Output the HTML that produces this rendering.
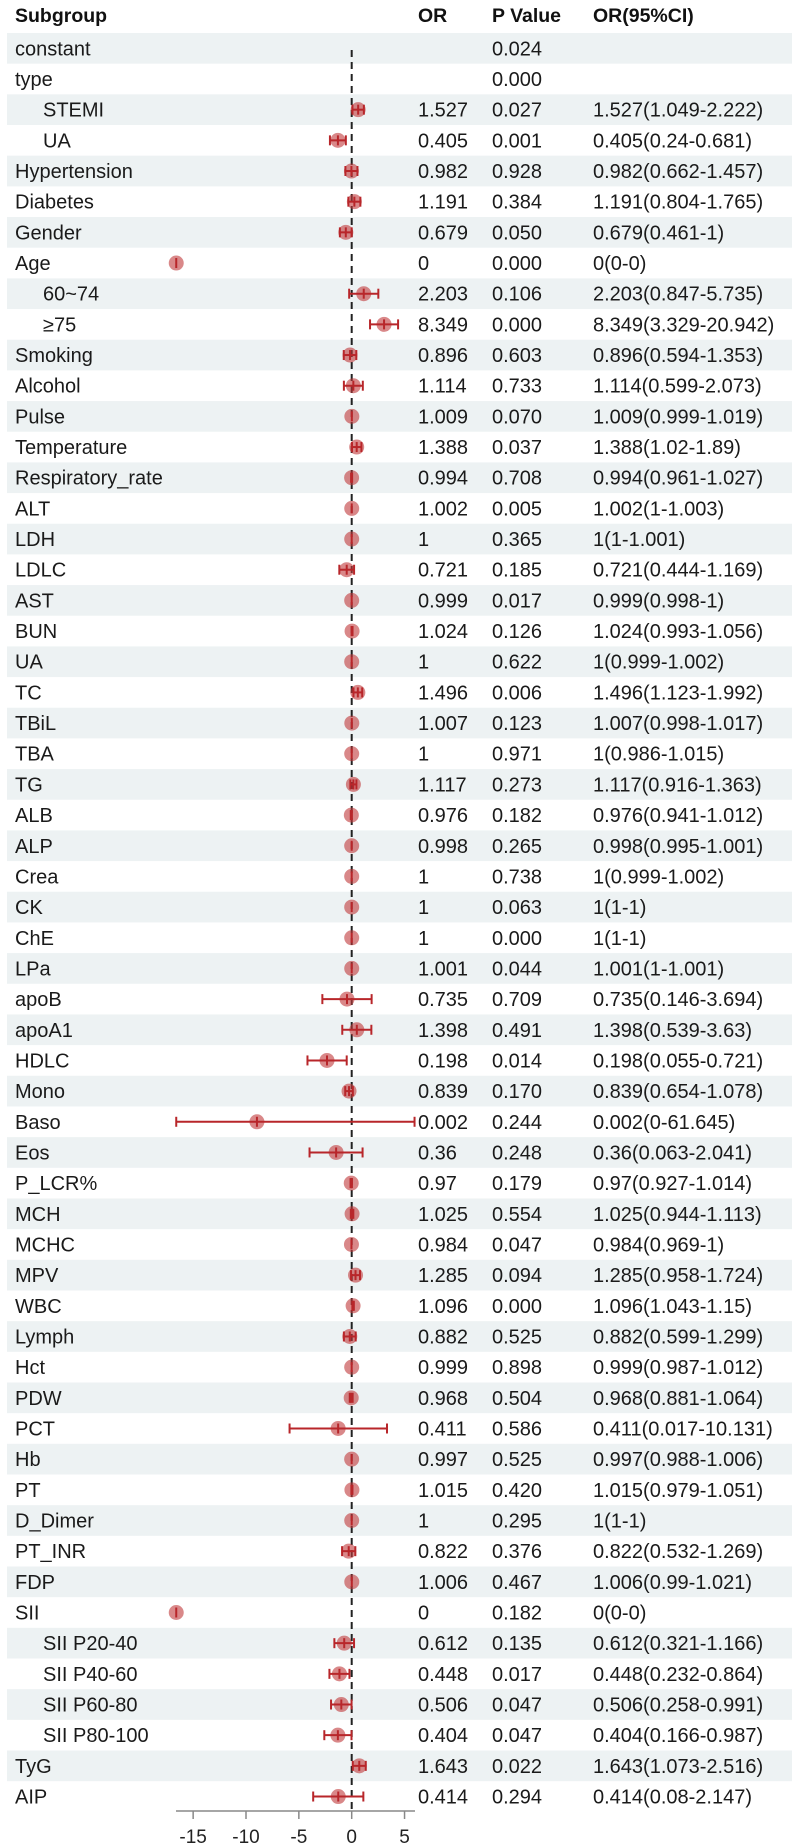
<!DOCTYPE html>
<html><head><meta charset="utf-8"><style>
html,body{margin:0;padding:0;background:#fff;}
svg{display:block;font-family:"Liberation Sans",sans-serif;}
</style></head><body>
<svg id="chart" width="792" height="1847" viewBox="0 0 792 1847" xmlns="http://www.w3.org/2000/svg">
<g id="bands"></g>
<g id="header" font-weight="bold" font-size="19.5" fill="#111">
<text x="15" y="22">Subgroup</text>
<text x="418" y="22">OR</text>
<text x="492" y="22">P Value</text>
<text x="593" y="22">OR(95%CI)</text>
</g>
<g id="texts" font-size="20" fill="#1a1a1a"></g>
<g id="refline"></g>
<g id="marks"></g>
<g id="axis"></g>
</svg>
<script>
const labels=["constant","type","STEMI","UA","Hypertension","Diabetes","Gender","Age","60~74","≥75","Smoking","Alcohol","Pulse","Temperature","Respiratory_rate","ALT","LDH","LDLC","AST","BUN","UA","TC","TBiL","TBA","TG","ALB","ALP","Crea","CK","ChE","LPa","apoB","apoA1","HDLC","Mono","Baso","Eos","P_LCR%","MCH","MCHC","MPV","WBC","Lymph","Hct","PDW","PCT","Hb","PT","D_Dimer","PT_INR","FDP","SII","SII P20-40","SII P40-60","SII P60-80","SII P80-100","TyG","AIP"];
const indented=[2,3,8,9,52,53,54,55];
const orVals=["","","1.527","0.405","0.982","1.191","0.679","0","2.203","8.349","0.896","1.114","1.009","1.388","0.994","1.002","1","0.721","0.999","1.024","1","1.496","1.007","1","1.117","0.976","0.998","1","1","1","1.001","0.735","1.398","0.198","0.839","0.002","0.36","0.97","1.025","0.984","1.285","1.096","0.882","0.999","0.968","0.411","0.997","1.015","1","0.822","1.006","0","0.612","0.448","0.506","0.404","1.643","0.414"];
const pVals=["0.024","0.000","0.027","0.001","0.928","0.384","0.050","0.000","0.106","0.000","0.603","0.733","0.070","0.037","0.708","0.005","0.365","0.185","0.017","0.126","0.622","0.006","0.123","0.971","0.273","0.182","0.265","0.738","0.063","0.000","0.044","0.709","0.491","0.014","0.170","0.244","0.248","0.179","0.554","0.047","0.094","0.000","0.525","0.898","0.504","0.586","0.525","0.420","0.295","0.376","0.467","0.182","0.135","0.017","0.047","0.047","0.022","0.294"];
const ciLow=["","","1.049","0.24","0.662","0.804","0.461","0","0.847","3.329","0.594","0.599","0.999","1.02","0.961","1","1","0.444","0.998","0.993","0.999","1.123","0.998","0.986","0.916","0.941","0.995","0.999","1","1","1","0.146","0.539","0.055","0.654","0","0.063","0.927","0.944","0.969","0.958","1.043","0.599","0.987","0.881","0.017","0.988","0.979","1","0.532","0.99","0","0.321","0.232","0.258","0.166","1.073","0.08"];
const ciHigh=["","","2.222","0.681","1.457","1.765","1","0","5.735","20.942","1.353","2.073","1.019","1.89","1.027","1.003","1.001","1.169","1","1.056","1.002","1.992","1.017","1.015","1.363","1.012","1.001","1.002","1","1","1.001","3.694","3.63","0.721","1.078","61.645","2.041","1.014","1.113","1","1.724","1.15","1.299","1.012","1.064","10.131","1.006","1.051","1","1.269","1.021","0","1.166","0.864","0.991","0.987","2.516","2.147"];
const ticks=[-15,-10,-5,0,5];

const NS="http://www.w3.org/2000/svg";
const X0=351.7, SCALE=10.57, XMIN=-16.6;
const ROW0=33, RH=30.67;
function xs(v){return X0+v*SCALE;}
function tx(orv){const n=parseFloat(orv);return n<=0?XMIN:Math.max(XMIN,Math.log2(n));}
function rowC(i){return ROW0+RH*i+RH/2;}
function mk(tag,attrs,parent){const e=document.createElementNS(NS,tag);for(const k in attrs)e.setAttribute(k,attrs[k]);parent.appendChild(e);return e;}
const bands=document.getElementById('bands'),texts=document.getElementById('texts'),marks=document.getElementById('marks'),axis=document.getElementById('axis'),ref=document.getElementById('refline');

labels.forEach((lab,i)=>{
  if(i%2===0){
    const b=mk('rect',{x:7,y:ROW0+RH*i,width:785,height:RH,fill:'#edf2f3'},bands);
    
    
  }
  const yb=rowC(i)+7;
  const t=mk('text',{x:indented.includes(i)?43:15,y:yb},texts);t.textContent=lab;
  
  
  if(orVals[i]){const o=mk('text',{x:418,y:yb},texts);o.textContent=orVals[i];
    
    }
  const p=mk('text',{x:492,y:yb},texts);p.textContent=pVals[i];
  
  
  if(orVals[i]){const c=mk('text',{x:593,y:yb},texts);c.textContent=orVals[i]+'('+ciLow[i]+'-'+ciHigh[i]+')';
    
    }
});

const rl=mk('line',{x1:xs(0),x2:xs(0),y1:50,y2:1811,stroke:'#222','stroke-width':2,'stroke-dasharray':'7,5'},ref);



labels.forEach((lab,i)=>{
  if(!orVals[i])return;
  const y=rowC(i);
  const g=mk('g',{},marks);
  
  
  const cx=xs(tx(orVals[i])), lx=xs(tx(ciLow[i])), hx=xs(tx(ciHigh[i]));
  mk('circle',{cx:cx,cy:y,r:7.5,fill:'#c0393b','fill-opacity':0.6},g);
  if(hx-lx>0.5){
    mk('line',{x1:lx,x2:hx,y1:y,y2:y,stroke:'#b8262a','stroke-width':2},g);
    mk('line',{x1:lx,x2:lx,y1:y-5,y2:y+5,stroke:'#b8262a','stroke-width':2},g);
    mk('line',{x1:hx,x2:hx,y1:y-5,y2:y+5,stroke:'#b8262a','stroke-width':2},g);
  }
  mk('line',{x1:cx,x2:cx,y1:y-5,y2:y+5,stroke:'#b8262a','stroke-width':2},g);
});

const al=mk('line',{x1:176,x2:415,y1:1811,y2:1811,stroke:'#888','stroke-width':1.5},axis);


ticks.forEach(t=>{
  const tk=mk('line',{x1:xs(t),x2:xs(t),y1:1811,y2:1819,stroke:'#888','stroke-width':1.5},axis);
  
  
  const lb=mk('text',{x:xs(t),y:1843,'text-anchor':'middle','font-size':19,fill:'#222'},axis);lb.textContent=String(t);
  
  
});
</script>
</body></html>
